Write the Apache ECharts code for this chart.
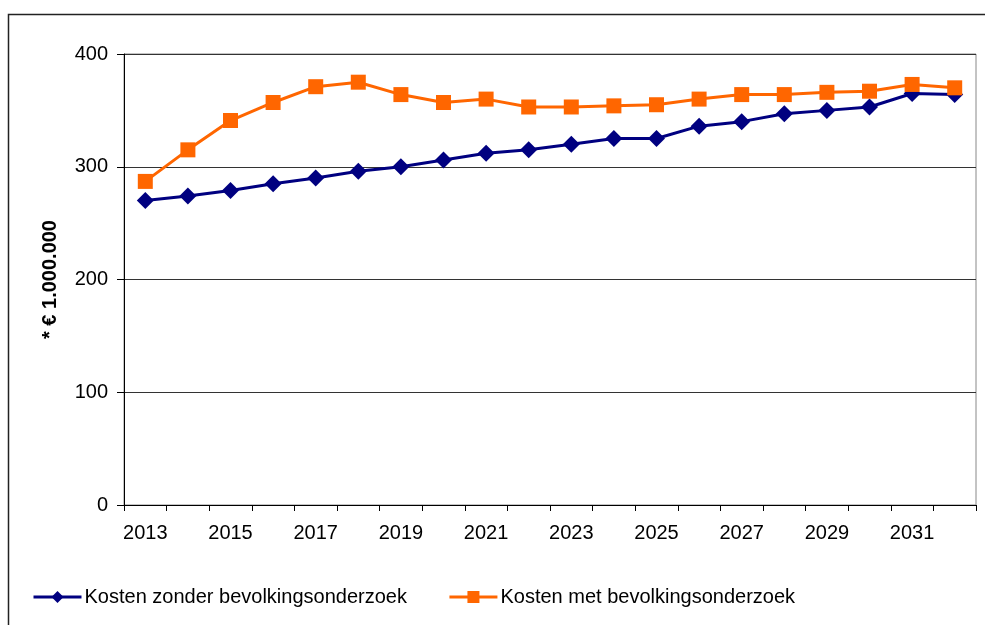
<!DOCTYPE html>
<html><head><meta charset="utf-8">
<script src="https://cdn.jsdelivr.net/npm/echarts@6/dist/echarts.min.js"></script>
<style>html,body{margin:0;padding:0;background:#fff}#c{width:985px;height:625px}</style>
</head><body><div id="c"></div>
<script>
const years = ['2013','2014','2015','2016','2017','2018','2019','2020','2021','2022','2023','2024','2025','2026','2027','2028','2029','2030','2031','2032'];
const zonder = [270,274,279,285,290,296,300,306,312,315,320,325,325,336,340,347,350,353,365,364];
const met = [287,315,341,357,371,375,364,357,360,353,353,354,355,360,364,364,366,367,373,370];
const seriesNames = ['Kosten zonder bevolkingsonderzoek','Kosten met bevolkingsonderzoek'];
const yTitle = '* € 1.000.000';

const chart = echarts.init(document.getElementById('c'));
const font = 'Liberation Sans, Arial, sans-serif';
chart.setOption({
  animation: false,
  textStyle: {fontFamily: font},
  graphic: [{type:'rect', shape:{x:8.5,y:14.5,width:1200,height:800}, style:{fill:'none',stroke:'#222',lineWidth:1.5}, silent:true}],
  grid: {left:124, right:9, top:54, bottom:120, show:true, borderColor:'#888', borderWidth:1},
  legend: {
    left: 27, top: 582, itemGap: 41, itemWidth: 48, itemHeight: 15,
    lineStyle: {width: 3},
    textStyle: {fontSize: 20, color:'#000', fontFamily: font, padding:[0,0,0,-2]},
    data: seriesNames
  },
  xAxis: {
    type:'category', data: years, boundaryGap: true,
    axisLine:{lineStyle:{color:'#000',width:1}},
    axisTick:{show:true,length:6,lineStyle:{color:'#000'}, interval:0},
    axisLabel:{interval:1, fontSize:20, color:'#000', margin:18, fontFamily:font}
  },
  yAxis: {
    type:'value', min:0, max:400, interval:100,
    name: yTitle, nameLocation:'middle', nameRotate:90, nameGap:64,
    nameTextStyle:{fontSize:20, fontWeight:'bold', color:'#000', fontFamily:font},
    axisLine:{show:true, lineStyle:{color:'#000',width:1}},
    axisTick:{show:true, length:7, lineStyle:{color:'#000'}},
    axisLabel:{fontSize:20, color:'#000', margin:16, fontFamily:font},
    splitLine:{lineStyle:{color:'#333', width:1}}
  },
  series: [
    {name: seriesNames[0], type:'line', data: zonder, symbol:'diamond', symbolSize:17,
     lineStyle:{color:'#000080', width:3}, itemStyle:{color:'#000080'}, z:2},
    {name: seriesNames[1], type:'line', data: met, symbol:'rect', symbolSize:15,
     lineStyle:{color:'#FF6600', width:3}, itemStyle:{color:'#FF6600'}, z:3}
  ]
});
</script></body></html>
